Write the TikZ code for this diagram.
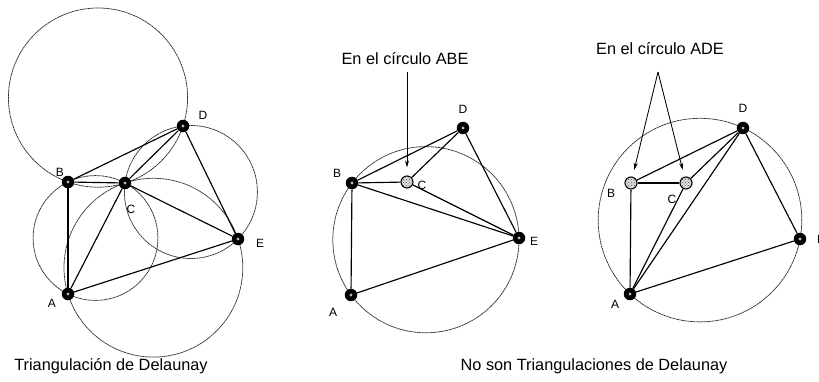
\documentclass[tikz,border=0pt]{standalone}
\usepackage{fontspec}
\setmainfont{Liberation Sans}
\usetikzlibrary{arrows.meta,patterns}
\begin{document}
\begin{tikzpicture}[x=1pt,y=-1pt,
  circ/.style={draw=black!80, line width=0.75pt, dash pattern=on 2.2pt off 0.5pt},
  edge/.style={draw=black, line width=1.15pt},
  vtx/.style={circle, fill=black, inner sep=0pt, minimum size=12.5pt,
    path picture={\fill[gray!55] (path picture bounding box.center) circle (1.7pt);}},
  hvtx/.style={circle, draw=black, line width=1.1pt, fill=gray!25, inner sep=0pt, minimum size=12pt,
    postaction={pattern=crosshatch dots, pattern color=black!70}},
  lbl/.style={font=\fontsize{12}{12}\selectfont, inner sep=0pt},
  captxt/.style={font=\fontsize{16.3}{16.3}\selectfont, inner sep=0pt},
  arr/.style={-{Stealth[length=7pt,width=4pt]}, line width=0.85pt}]
\fill[white] (0,0) rectangle (819,382);
\useasboundingbox (0,0) rectangle (819,382);

% ---------------- left: Delaunay triangulation ----------------
\draw[circ] (98,97.6) circle[radius=89.6pt];
\draw[circ] (95.5,238) circle[radius=62.4pt];
\draw[circ] (190.9,192) circle[radius=66.5pt];
\draw[circ] (153.4,267.7) circle[radius=89.4pt];
\node[vtx] (lA) at (68,294) {};
\node[vtx] (lB) at (68,182) {};
\node[vtx] (lC) at (125,183) {};
\node[vtx] (lD) at (183,126) {};
\node[vtx] (lE) at (238,239) {};
\draw[edge] (lA) -- (lB);
\draw[edge] (lB) -- (lC);
\draw[edge] (lB) -- (lD);
\draw[edge] (lC) -- (lD);
\draw[edge] (lD) -- (lE);
\draw[edge] (lC) -- (lE);
\draw[edge] (lA) -- (lC);
\draw[edge] (lA) -- (lE);
\node[lbl] (lAl) at (52,303) {A};
\node[lbl] (lBl) at (60,172) {B};
\node[lbl] (lCl) at (131,209) {C};
\node[lbl] (lDl) at (203,115) {D};
\node[lbl] (lEl) at (260,243) {E};
\node[captxt] (lcap) at (111,366) {Triangulación de Delaunay};

% ---------------- middle ----------------
\draw[circ] (425.9,239.7) circle[radius=93.1pt];
\node[vtx] (mA) at (351,295) {};
\node[vtx] (mB) at (352,183) {};
\node[hvtx] (mC) at (407,182) {};
\node[vtx] (mD) at (463,128) {};
\node[vtx] (mE) at (519,238) {};
\draw[edge] (mA) -- (mB);
\draw[edge] (mB) -- (mC);
\draw[edge] (mB) -- (mD);
\draw[edge] (mC) -- (mD);
\draw[edge] (mB) -- (mE);
\draw[edge] (mC) -- (mE);
\draw[edge] (mD) -- (mE);
\draw[edge] (mA) -- (mE);
\node[lbl] (mAl) at (333,312) {A};
\node[lbl] (mBl) at (337,173) {B};
\node[lbl] (mCl) at (422,185) {C};
\node[lbl] (mDl) at (463,109) {D};
\node[lbl] (mEl) at (534,241) {E};
\node[captxt] (mtxt) at (405,59) {En el círculo ABE};
\coordinate (mtail) at (407,72);
\draw[arr, shorten >=8pt] (mtail) -- (mC);

% ---------------- right ----------------
\draw[circ] (700,220.1) circle[radius=101.8pt];
\node[vtx] (rA) at (630,294) {};
\node[hvtx] (rB) at (631,183) {};
\node[hvtx] (rC) at (686,183) {};
\node[vtx] (rD) at (743,128) {};
\node[vtx] (rE) at (800,239) {};
\draw[edge] (rA) -- (rB);
\draw[edge] (rB) -- (rC);
\draw[edge] (rB) -- (rD);
\draw[edge] (rC) -- (rD);
\draw[edge] (rA) -- (rC);
\draw[edge] (rA) -- (rD);
\draw[edge] (rD) -- (rE);
\draw[edge] (rA) -- (rE);
\node[lbl] (rAl) at (615,304) {A};
\node[lbl] (rBl) at (611,193) {B};
\node[lbl] (rCl) at (672,199) {C};
\node[lbl] (rDl) at (743,108) {D};
\node[lbl] (rEl) at (821,239) {E};
\node[captxt] (rtxt) at (660,49) {En el círculo ADE};
\coordinate (rtail) at (658,72);
\draw[arr, shorten >=7pt] (rtail) -- (rB);
\draw[arr, shorten >=7pt] (rtail) -- (rC);

\node[captxt] (rcap) at (594,366) {No son Triangulaciones de Delaunay};
\end{tikzpicture}
\end{document}
